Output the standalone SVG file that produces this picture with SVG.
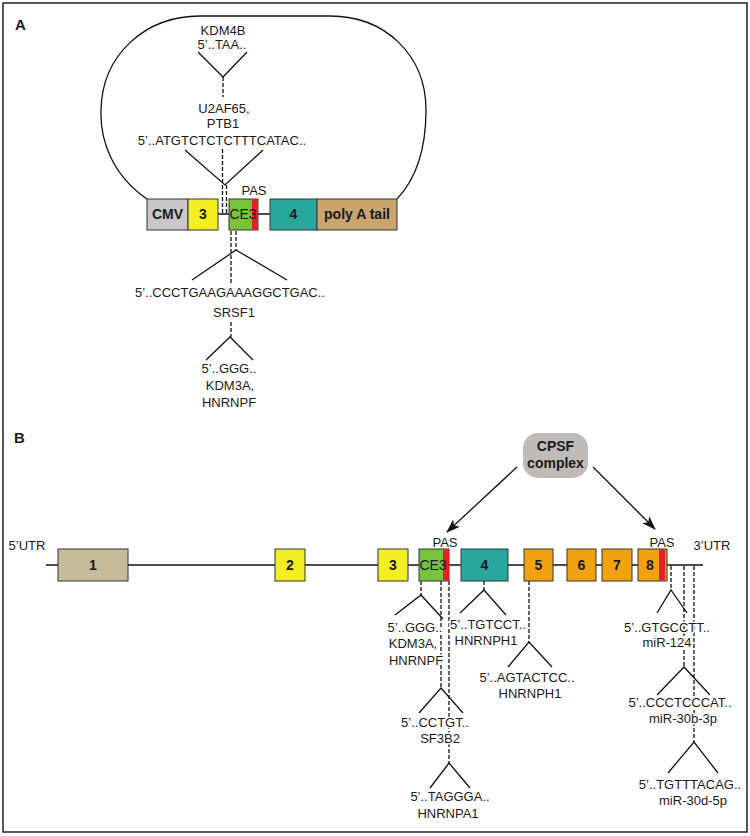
<svg xmlns="http://www.w3.org/2000/svg" width="750" height="836" viewBox="0 0 750 836">
<defs>
<style>
text{font-family:"Liberation Sans",Arial,sans-serif;fill:#1a1a1a}
.t{font-size:13px;text-anchor:middle;stroke:#fff;stroke-width:3;paint-order:stroke;stroke-linejoin:round}
.b{font-size:14px;font-weight:bold;text-anchor:middle}
.r{font-size:14px;text-anchor:middle}
.pl{font-size:15px;font-weight:bold}
.box{stroke:#333;stroke-width:1}
.ln{stroke:#111;stroke-width:1.3;fill:none}
.ds{stroke:#111;stroke-width:1.3;fill:none;stroke-dasharray:4 2}
.gray{fill:#c9c7c7}.yel{fill:#f3ee24}.grn{fill:#79c23c}.red{fill:#e3202a}
.teal{fill:#28a89d}.tan{fill:#c8a46f}.beige{fill:#c8bb9c}.org{fill:#f2a20e}
</style>
<marker id="ah" viewBox="0 0 14 10" refX="13" refY="5" markerWidth="14" markerHeight="10" markerUnits="userSpaceOnUse" orient="auto">
<path d="M0,0 L14,5 L0,10 L3.5,5 Z" fill="#111"/>
</marker>
</defs>
<rect x="3" y="3" width="744" height="829" fill="#fff" stroke="#222" stroke-width="1.5"/>
<text x="15" y="30" class="pl">A</text>
<text x="14" y="443" class="pl">B</text>

<g id="connectors">
<path class="ln" d="M147,199 C112,175 100,140 101,110 C102,55 145,16 200,16 L330,16 C385,16 426,55 426,110 C426,150 415,180 397,199"/>
<line class="ln" x1="218" y1="214" x2="270" y2="214"/>
<polyline class="ln" points="198,52 223,77 247,52"/>
<line class="ds" x1="223" y1="77" x2="223" y2="97"/>
<polyline class="ln" points="185,150 225,185 263,150"/>
<line class="ds" x1="222.5" y1="149" x2="222.5" y2="213"/>
<line class="ds" x1="226.5" y1="185" x2="226.5" y2="213"/>
<line class="ds" x1="231" y1="231" x2="231" y2="283"/>
<line class="ds" x1="236" y1="231" x2="236" y2="250"/>
<polyline class="ln" points="192,280 236,250 287,280"/>
<line class="ds" x1="231" y1="322" x2="231" y2="337"/>
<polyline class="ln" points="206,360 230,337 253,360"/>
<line class="ln" x1="46" y1="565" x2="703" y2="565"/>
<line class="ln" x1="517" y1="467" x2="447" y2="532" marker-end="url(#ah)"/>
<line class="ln" x1="593" y1="467" x2="655" y2="529" marker-end="url(#ah)"/>
<line class="ds" x1="421" y1="581" x2="421" y2="595"/>
<polyline class="ln" points="395,615 421,595 443,619"/>
<line class="ds" x1="441" y1="581" x2="441" y2="688"/>
<polyline class="ln" points="419,713 441,688 463,713"/>
<line class="ds" x1="449" y1="581" x2="449" y2="763"/>
<polyline class="ln" points="430,788 449,763 470,788"/>
<line class="ds" x1="484" y1="581" x2="484" y2="590"/>
<polyline class="ln" points="460,613 484,590 506,615"/>
<line class="ds" x1="529" y1="581" x2="529" y2="642"/>
<polyline class="ln" points="508,667 529,642 552,667"/>
<line class="ds" x1="671" y1="566" x2="671" y2="590"/>
<polyline class="ln" points="657,613 671,590 687,613"/>
<line class="ds" x1="684" y1="566" x2="684" y2="667"/>
<polyline class="ln" points="657,695 684,667 710,695"/>
<line class="ds" x1="694" y1="566" x2="694" y2="742"/>
<polyline class="ln" points="668,773 694,742 718,773"/>
</g>

<g id="a-texts">
<text class="t" x="223" y="35">KDM4B</text>
<text class="t" x="222" y="49">5’..TAA..</text>
<text class="t" x="224" y="113">U2AF65,</text>
<text class="t" x="223" y="128">PTB1</text>
<text class="t" x="222" y="145">5’..ATGTCTCTCTTTCATAC..</text>
<text class="t" x="254" y="195">PAS</text>
<text class="t" x="230" y="297">5’..CCCTGAAGAAAGGCTGAC..</text>
<text class="t" x="234" y="317">SRSF1</text>
<text class="t" x="229" y="373">5’..GGG..</text>
<text class="t" x="230" y="390">KDM3A,</text>
<text class="t" x="229" y="407">HNRNPF</text>
</g>

<g id="a-cmv"><rect class="box gray" x="147" y="199" width="41" height="31"/><text class="b" x="167.5" y="219">CMV</text></g>
<g id="a-ex3"><rect class="box yel" x="188" y="199" width="30" height="31"/><text class="b" x="203" y="219">3</text></g>
<g id="a-ce3"><rect class="box grn" x="229" y="199" width="29" height="31"/><rect class="red" x="252" y="199.5" width="6" height="30"/><text class="r" x="243" y="219">CE3</text></g>
<g id="a-ex4"><rect class="box teal" x="270" y="199" width="47" height="31"/><text class="b" x="293.5" y="219">4</text></g>
<g id="a-polya"><rect class="box tan" x="317" y="199" width="80" height="31"/><text class="b" x="357" y="219">poly A tail</text></g>

<g id="cpsf"><rect x="523" y="433" width="65" height="45" rx="15" fill="#bfbbb8"/><text class="b" x="555.5" y="451">CPSF</text><text class="b" x="555.5" y="468">complex</text></g>

<g id="b-labels">
<text class="t" x="27" y="550">5’UTR</text>
<text class="t" x="712" y="550">3’UTR</text>
<text class="t" x="445" y="547">PAS</text>
<text class="t" x="662" y="547">PAS</text>
</g>

<g id="b-ex1"><rect class="box beige" x="58" y="549" width="70" height="32"/><text class="b" x="93" y="570">1</text></g>
<g id="b-ex2"><rect class="box yel" x="275" y="549" width="30" height="32"/><text class="b" x="290" y="570">2</text></g>
<g id="b-ex3"><rect class="box yel" x="378" y="549" width="30" height="32"/><text class="b" x="393" y="570">3</text></g>
<g id="b-ce3"><rect class="box grn" x="419" y="549" width="30" height="32"/><rect class="red" x="443" y="549.5" width="6" height="31"/><text class="r" x="433" y="570">CE3</text></g>
<g id="b-ex4"><rect class="box teal" x="461" y="549" width="47" height="32"/><text class="b" x="484.5" y="570">4</text></g>
<g id="b-ex5"><rect class="box org" x="524" y="549" width="29" height="32"/><text class="b" x="538.5" y="570">5</text></g>
<g id="b-ex6"><rect class="box org" x="567" y="549" width="29" height="32"/><text class="b" x="581.5" y="570">6</text></g>
<g id="b-ex7"><rect class="box org" x="602" y="549" width="30" height="32"/><text class="b" x="617" y="570">7</text></g>
<g id="b-ex8"><rect class="box org" x="638" y="549" width="29" height="32"/><rect class="red" x="659" y="549.5" width="6" height="31"/><text class="b" x="650" y="570">8</text></g>

<g id="b-texts">
<text class="t" x="415" y="632">5’..GGG..</text>
<text class="t" x="413" y="648">KDM3A,</text>
<text class="t" x="416" y="665">HNRNPF</text>
<text class="t" x="488" y="629">5’..TGTCCT..</text>
<text class="t" x="486" y="645">HNRNPH1</text>
<text class="t" x="527" y="682">5’..AGTACTCC..</text>
<text class="t" x="530" y="698">HNRNPH1</text>
<text class="t" x="435" y="727">5’..CCTGT..</text>
<text class="t" x="440" y="743">SF3B2</text>
<text class="t" x="450" y="801">5’..TAGGGA..</text>
<text class="t" x="448" y="818">HNRNPA1</text>
<text class="t" x="667" y="632">5’..GTGCCTT..</text>
<text class="t" x="667" y="647">miR-124</text>
<text class="t" x="680" y="707">5’..CCCTCCCAT..</text>
<text class="t" x="683" y="723">miR-30b-3p</text>
<text class="t" x="690" y="789">5’..TGTTTACAG..</text>
<text class="t" x="693" y="805">miR-30d-5p</text>
</g>
</svg>
